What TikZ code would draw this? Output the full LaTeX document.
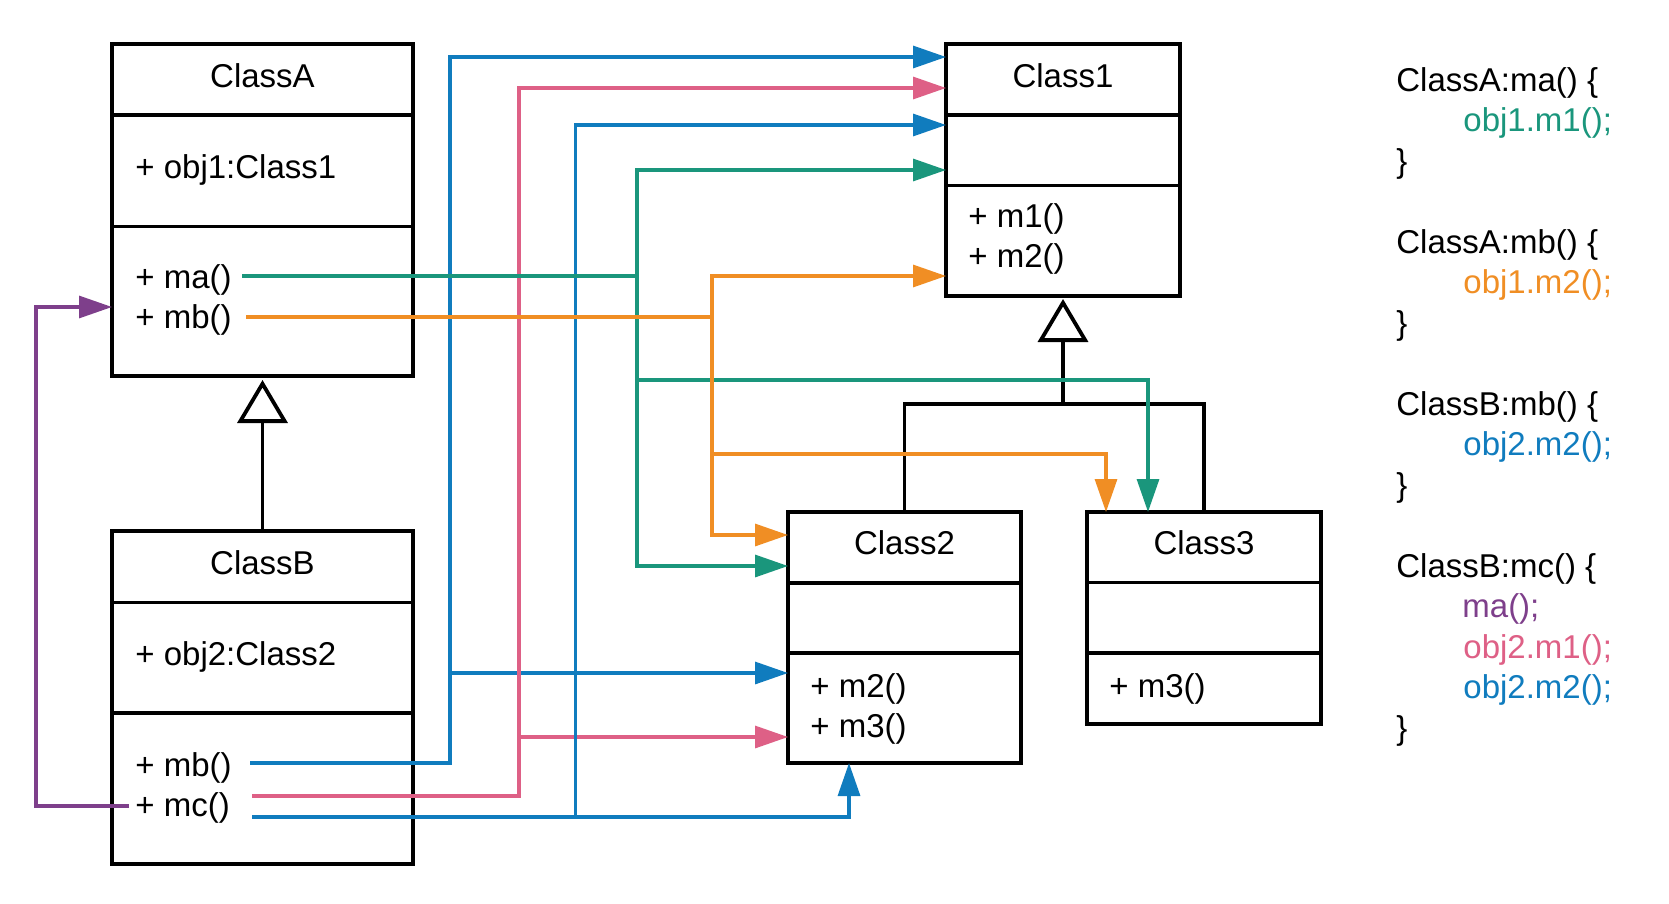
\documentclass[tikz,border=0pt]{standalone}
\usepackage{fontspec}
\setmainfont{Liberation Sans}
\usetikzlibrary{arrows.meta,calc}
\definecolor{cblue}{RGB}{16,124,190}
\definecolor{cpink}{RGB}{222,96,134}
\definecolor{cgreen}{RGB}{26,150,124}
\definecolor{corange}{RGB}{240,142,36}
\definecolor{cpurple}{RGB}{126,63,139}
\newcommand\myfs{\fontsize{16.5pt}{20pt}\selectfont}
\begin{document}
\begin{tikzpicture}[x=0.5pt,y=-0.5pt,
  every node/.style={font=\myfs},
  comp/.style={draw, line width=1.8pt, anchor=north west, inner sep=0pt, outer sep=0pt},
  txt/.style={anchor=base west, inner sep=0pt},
  ttl/.style={anchor=base, inner sep=0pt},
  conn/.style={line width=1.6pt},
  arr/.style={conn, -{Triangle[length=16.5pt,width=11pt]}},
  blk/.style={line width=1.7pt},
  inh/.style={blk, -{Triangle[open,length=21.5pt,width=25pt,line width=1.9pt]}}]
\useasboundingbox (0,0) rectangle (1669,904);
% ClassA
\node[comp, minimum width=150.5pt, minimum height=35.5pt] (At) at (112,44) {};
\node[comp, minimum width=150.5pt, minimum height=55.75pt] (Aa) at (112,115) {};
\node[comp, minimum width=150.5pt, minimum height=74.75pt] (Am) at (112,226.5) {};
\node[ttl] (Atl) at (262.5,87.3) {ClassA};
\node[txt] (Aobj) at (135,178) {+ obj1:Class1};
\node[txt] (Ama) at (135,288) {+ ma()};
\node[txt] (Amb) at (135,328.5) {+ mb()};
% ClassB
\node[comp, minimum width=150.5pt, minimum height=35.75pt] (Bt) at (112,531) {};
\node[comp, minimum width=150.5pt, minimum height=55.25pt] (Ba) at (112,602.5) {};
\node[comp, minimum width=150.5pt, minimum height=75.5pt] (Bm) at (112,713) {};
\node[ttl] (Btl) at (262.5,574.7) {ClassB};
\node[txt] (Bobj) at (135,665) {+ obj2:Class2};
\node[txt] (Bmb) at (135,776) {+ mb()};
\node[txt] (Bmc) at (135,816) {+ mc()};
% Class1
\node[comp, minimum width=117pt, minimum height=35.5pt] (C1t) at (946,44) {};
\node[comp, minimum width=117pt, minimum height=35.25pt] (C1a) at (946,115) {};
\node[comp, minimum width=117pt, minimum height=55.25pt] (C1m) at (946,185.5) {};
\node[ttl] (C1tl) at (1063,87.3) {Class1};
\node[txt] (C1m1) at (968,227.5) {+ m1()};
\node[txt] (C1m2) at (968,267.5) {+ m2()};
% Class2
\node[comp, minimum width=116.5pt, minimum height=35.5pt] (C2t) at (788,512) {};
\node[comp, minimum width=116.5pt, minimum height=35pt] (C2a) at (788,583) {};
\node[comp, minimum width=116.5pt, minimum height=55pt] (C2m) at (788,653) {};
\node[ttl] (C2tl) at (904.5,554.7) {Class2};
\node[txt] (C2m2) at (810,697) {+ m2()};
\node[txt] (C2m3) at (810,737) {+ m3()};
% Class3
\node[comp, minimum width=117pt, minimum height=35.25pt] (C3t) at (1087,512) {};
\node[comp, minimum width=117pt, minimum height=35.25pt] (C3a) at (1087,582.5) {};
\node[comp, minimum width=117pt, minimum height=35.5pt] (C3m) at (1087,653) {};
\node[ttl] (C3tl) at (1204,554.7) {Class3};
\node[txt] (C3m3) at (1109,697) {+ m3()};
% inheritance
\draw[inh] (Bt.north) -- ($(Am.south)+(0,4)$);
\coordinate (bus) at ($(C1m.south)+(0,108)$);
\draw[blk] (C2t.north) |- (bus);
\draw[blk] (C3t.north) |- (bus);
\draw[inh] (bus) -- ($(C1m.south)+(0,3)$);
% connector coordinates
\coordinate (maS) at (242,276);
\coordinate (mbS) at (246,317);
\coordinate (bmbS) at (250,763);
\coordinate (mcP) at (252,796);
\coordinate (mcB) at (252,817);
\coordinate (mcU) at (129,806);
\coordinate (bx1t) at (450,57);
\coordinate (bx1m) at (450,673);
\coordinate (pxt) at (519,88);
\coordinate (pxm) at (519,737);
\coordinate (bx2t) at (575.5,125);
\coordinate (bx2b) at (575.5,817);
\coordinate (bc2) at (849,817);
\coordinate (gxt) at (637,170);
\coordinate (gxm) at (637,276);
\coordinate (gx3) at (637,380);
\coordinate (gxb) at (637,566);
\coordinate (gc3) at (1148,380);
\coordinate (oxt) at (712,276);
\coordinate (oxm) at (712,317);
\coordinate (ox3) at (712,454);
\coordinate (oxb) at (712,535);
\coordinate (oc3) at (1106,454);
\coordinate (pu1) at (36,806);
\coordinate (pu2) at (36,307);
% connectors
\draw[cblue, arr] (bmbS) -| (bx1t) -- (bx1t -| C1t.west);
\draw[cblue, arr] (bx1m) -- (bx1m -| C2m.west);
\draw[cpink, arr] (mcP) -| (pxt) -- (pxt -| C1t.west);
\draw[cpink, arr] (pxm) -- (pxm -| C2m.west);
\draw[cblue, arr] (mcB) -- (bc2) -- (bc2 |- C2m.south);
\draw[cblue, arr] (bx2b) -- (bx2t) -- (bx2t -| C1a.west);
\draw[cgreen, conn] (maS) -- (gxm);
\draw[cgreen, arr] (gxm) -- (gxt) -- (gxt -| C1a.west);
\draw[cgreen, arr] (gxm) -- (gxb) -- (gxb -| C2t.west);
\draw[cgreen, arr] (gx3) -- (gc3) -- (gc3 |- C3t.north);
\draw[corange, conn] (mbS) -- (oxm);
\draw[corange, arr] (oxm) -- (oxt) -- (oxt -| C1m.west);
\draw[corange, arr] (oxm) -- (oxb) -- (oxb -| C2t.west);
\draw[corange, arr] (ox3) -- (oc3) -- (oc3 |- C3t.north);
\draw[cpurple, arr] (mcU) -- (pu1) -- (pu2) -- (pu2 -| Am.west);
% code
\node[txt] (k1) at (1396,91) {ClassA:ma() \{};
\node[txt, text=cgreen] (k2) at (1463,131.5) {obj1.m1();};
\node[txt] (k3) at (1396,172) {\}};
\node[txt] (k4) at (1396,253) {ClassA:mb() \{};
\node[txt, text=corange] (k5) at (1463,293.5) {obj1.m2();};
\node[txt] (k6) at (1396,334) {\}};
\node[txt] (k7) at (1396,415) {ClassB:mb() \{};
\node[txt, text=cblue] (k8) at (1463,455.5) {obj2.m2();};
\node[txt] (k9) at (1396,496) {\}};
\node[txt] (k10) at (1396,577) {ClassB:mc() \{};
\node[txt, text=cpurple] (k11) at (1462,617.5) {ma();};
\node[txt, text=cpink] (k12) at (1463,658) {obj2.m1();};
\node[txt, text=cblue] (k13) at (1463,698.5) {obj2.m2();};
\node[txt] (k14) at (1396,739) {\}};
\end{tikzpicture}
\end{document}
